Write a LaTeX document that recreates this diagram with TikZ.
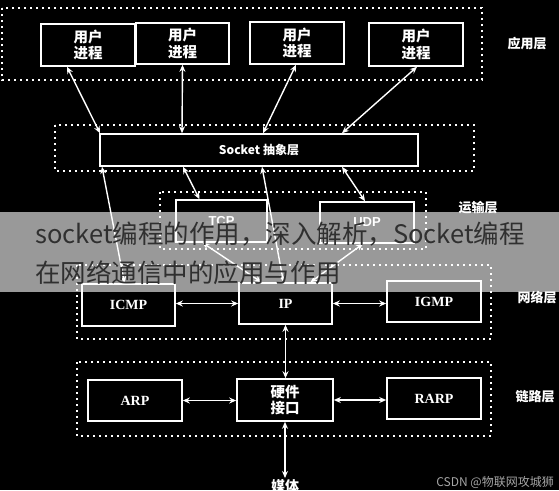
\documentclass[tikz,border=0pt]{standalone}
\usepackage{fontspec}
\setmainfont{Liberation Serif}
\newfontfamily\cjk{Noto Sans CJK SC}
\newfontfamily\lsans{Liberation Sans}
\usetikzlibrary{arrows.meta,calc}
\definecolor{bannertext}{HTML}{303030}
\begin{document}
\begin{tikzpicture}[x=1pt,y=-1pt,
  box/.style={draw=white,line width=1.6pt,text=white,inner sep=0pt,align=center},
  zh/.style={font=\cjk\bfseries\fontsize{14.5}{16.5}\selectfont},
  lat/.style={font=\bfseries\fontsize{14}{16}\selectfont},
  frame/.style={draw=white,line width=2pt,dash pattern=on 2pt off 4pt},
  arr/.style={draw=white,line width=1.4pt,{Stealth[length=7pt,width=6pt]}-{Stealth[length=7pt,width=6pt]}},
  layer/.style={text=white,font=\cjk\bfseries\fontsize{13}{15}\selectfont}]
\useasboundingbox (0,0) rectangle (559,490);
\fill[black] (0,0) rectangle (559,490);
% frames
\draw[frame] (2,8) rectangle (482,80);
\draw[frame] (55,125) rectangle (474,171);
\draw[frame] (160,192) rectangle (426,249);
\draw[frame] (77,265) rectangle (491,339);
\draw[frame] (77,362) rectangle (491,436);
% boxes
\node[box,zh,minimum width=94pt,minimum height=42pt] (u1) at (88,45) {用户\\进程};
\node[box,zh,minimum width=93pt,minimum height=41pt] (u2) at (182.5,43.5) {用户\\进程};
\node[box,zh,minimum width=94pt,minimum height=42pt] (u3) at (297,43) {用户\\进程};
\node[box,zh,minimum width=94pt,minimum height=43pt] (u4) at (416,44.5) {用户\\进程};
\node[box,font=\cjk\bfseries\fontsize{12}{14}\selectfont,minimum width=318pt,minimum height=32pt] (sock) at (259,150) {Socket 抽象层};
\node[box,font=\lsans\bfseries\fontsize{13}{15}\selectfont,minimum width=91pt,minimum height=42pt] (tcp) at (221.5,221) {TCP};
\node[box,font=\lsans\bfseries\fontsize{13}{15}\selectfont,minimum width=94pt,minimum height=41pt] (udp) at (367,222.5) {UDP};
\node[box,lat,minimum width=93pt,minimum height=42pt] (icmp) at (128.5,305) {ICMP};
\node[box,lat,minimum width=93pt,minimum height=41pt] (ip) at (285.5,303.5) {IP};
\node[box,lat,minimum width=94pt,minimum height=41pt] (igmp) at (434,301.5) {IGMP};
\node[box,lat,minimum width=94pt,minimum height=41pt] (arp) at (135,400.5) {ARP};
\node[box,zh,minimum width=96pt,minimum height=42pt] (hw) at (285,400) {硬件\\接口};
\node[box,lat,minimum width=94pt,minimum height=41pt] (rarp) at (434,398.5) {RARP};
\node[text=white,font=\cjk\bfseries\fontsize{14}{16}\selectfont,inner sep=1pt,anchor=north] (media) at (285,478) {媒体};
% layer labels
\node[layer] (l1) at (527,44) {应用层};
\node[layer] (l2) at (478,208) {运输层};
\node[layer] (l3) at (537,298) {网络层};
\node[layer] (l4) at (535,397) {链路层};
% arrows
\draw[arr] ([xshift=-21pt]u1.south) -- ([xshift=-159pt]sock.north);
\draw[arr] (u2.south) -- ([xshift=-77pt]sock.north);
\draw[arr] ([xshift=-1pt]u3.south) -- ([xshift=4pt]sock.north);
\draw[arr] ([xshift=1pt]u4.south) -- ([xshift=83pt]sock.north);
\draw[arr] ([xshift=-157pt]sock.south) -- ([xshift=-4pt]icmp.north);
\draw[arr] ([xshift=-76pt]sock.south) -- ([xshift=-22pt]tcp.north);
\draw[arr] ([xshift=3pt]sock.south) -- ([xshift=-2pt]ip.north);
\draw[arr] ([xshift=83pt]sock.south) -- ([xshift=-2pt]udp.north);
\draw[arr] ([xshift=-19pt]tcp.south) -- ([xshift=-24pt]ip.north);
\draw[arr] ([xshift=-4pt]udp.south) -- ([xshift=25pt]ip.north);
\draw[arr] (ip.west -| icmp.east) -- (ip.west);
\draw[arr] (ip.east) -- (ip.east -| igmp.west);
\draw[arr] (ip.south) -- (ip.south |- hw.north);
\draw[arr] (arp.east) -- (arp.east -| hw.west);
\draw[arr] (hw.east) -- (hw.east -| rarp.west);
\draw[arr] (hw.south) -- (media.north);
% banner overlay
\fill[white,opacity=0.6] (0,212) rectangle (559,292);
\node[anchor=west,inner sep=0pt,text=bannertext,font=\cjk\fontsize{25.5}{28}\selectfont] (b1) at (35,234) {socket编程的作用，深入解析，Socket编程};
\node[anchor=west,inner sep=0pt,text=bannertext,font=\cjk\fontsize{25.5}{28}\selectfont] (b2) at (35,273) {在网络通信中的应用与作用};
% watermark
\node[anchor=east,inner sep=0pt,text=white!65!black,font=\cjk\fontsize{12}{14}\selectfont] (wm) at (554,482) {CSDN @物联网攻城狮};
\end{tikzpicture}
\end{document}
